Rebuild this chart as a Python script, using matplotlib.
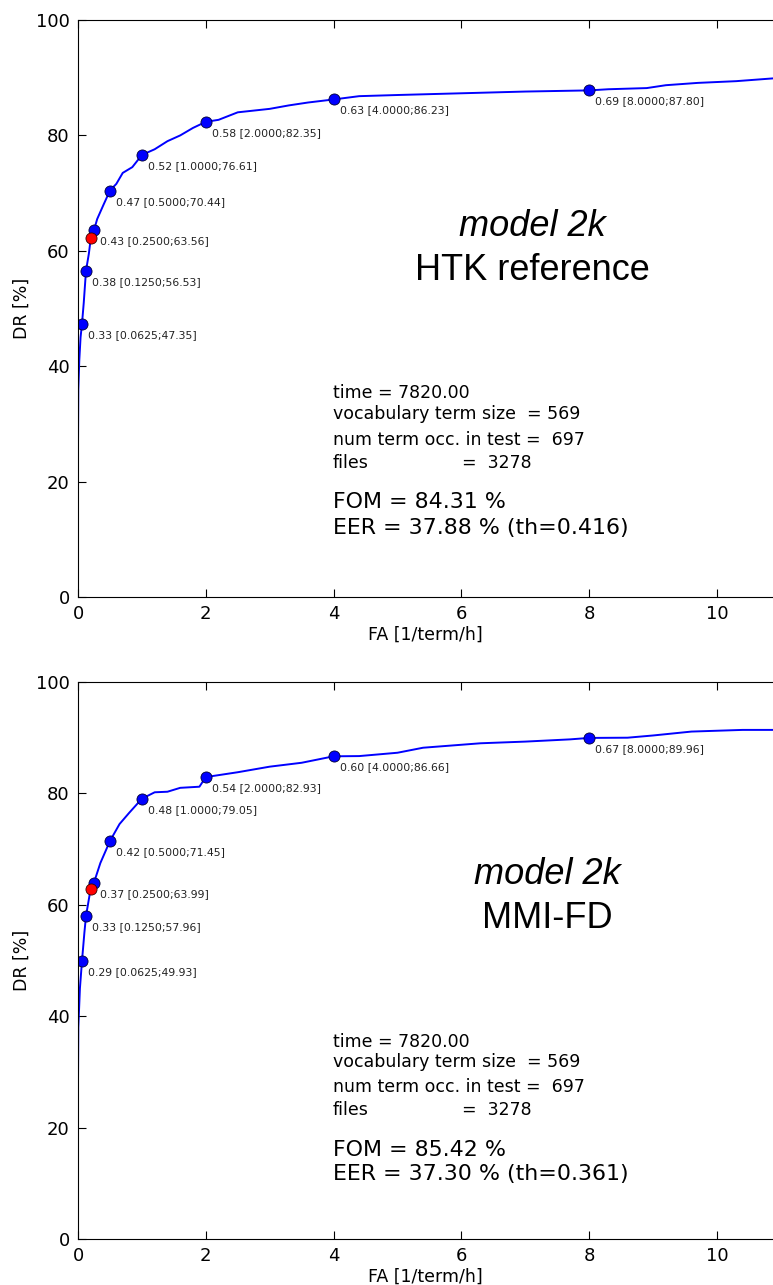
import numpy as np
import matplotlib
matplotlib.use("Agg")
import matplotlib.pyplot as plt

# ---- data ----
# top panel: HTK reference
fa_top = [0.0, 0.005, 0.02, 0.04, 0.0625, 0.09, 0.125, 0.17, 0.2, 0.25, 0.3, 0.4,
          0.5, 0.6, 0.7, 0.85, 1.0, 1.2, 1.4, 1.6, 1.8, 2.0, 2.2, 2.5, 3.0, 3.3,
          3.6, 4.0, 4.4, 5.0, 6.0, 7.0, 8.0, 8.3, 8.9, 9.2, 9.7, 10.3, 10.9]
dr_top = [26.0, 36.0, 41.0, 45.0, 47.35, 51.0, 56.53, 59.5, 62.2, 63.56, 65.5, 68.0,
          70.44, 71.6, 73.5, 74.5, 76.61, 77.6, 79.0, 80.0, 81.3, 82.35, 82.7, 84.0, 84.6, 85.2,
          85.7, 86.23, 86.8, 87.0, 87.3, 87.6, 87.80, 88.0, 88.2, 88.7, 89.1, 89.4, 89.9]
pts_fa_top = [0.0625, 0.125, 0.25, 0.5, 1.0, 2.0, 4.0, 8.0]
pts_dr_top = [47.35, 56.53, 63.56, 70.44, 76.61, 82.35, 86.23, 87.80]
pts_th_top = [0.33, 0.38, 0.43, 0.47, 0.52, 0.58, 0.63, 0.69]
eer_top = (0.20, 62.2)

# bottom panel: MMI-FD
fa_bot = [0.0, 0.005, 0.03, 0.0625, 0.1, 0.125, 0.17, 0.2, 0.25, 0.35, 0.5, 0.65,
          0.8, 1.0, 1.2, 1.4, 1.6, 1.9, 2.0, 2.5, 3.0, 3.5, 4.0, 4.4, 5.0, 5.4,
          6.3, 7.0, 7.7, 8.0, 8.6, 9.0, 9.6, 10.4, 10.9]
dr_bot = [28.0, 38.0, 45.0, 49.93, 55.0, 57.96, 61.0, 63.0, 63.99, 67.5, 71.45, 74.5,
          76.5, 79.05, 80.2, 80.3, 81.0, 81.2, 82.93, 83.8, 84.8, 85.5, 86.66, 86.7, 87.3, 88.2,
          89.0, 89.3, 89.7, 89.96, 90.0, 90.4, 91.1, 91.4, 91.4]
pts_fa_bot = [0.0625, 0.125, 0.25, 0.5, 1.0, 2.0, 4.0, 8.0]
pts_dr_bot = [49.93, 57.96, 63.99, 71.45, 79.05, 82.93, 86.66, 89.96]
pts_th_bot = [0.29, 0.33, 0.37, 0.42, 0.48, 0.54, 0.60, 0.67]
eer_bot = (0.20, 62.8)

info_lines = ["time = 7820.00", "vocabulary term size  = 569",
              "num term occ. in test =  697", "files"]
files_val = "=  3278"
fom = ["84.31", "85.42"]
eer = ["37.88", "37.30"]
th = ["0.416", "0.361"]
titles = ["HTK reference", "MMI-FD"]

W, H = 773, 1285
fig = plt.figure(figsize=(W / 100, H / 100), dpi=100)


def fx(px):
    return px / W


def fy(py):
    return 1 - py / H


panels = [
    dict(fa=fa_top, dr=dr_top, pfa=pts_fa_top, pdr=pts_dr_top, pth=pts_th_top, eer=eer_top,
         top=20, bottom=597, title_cx=532, title_y=(226, 270),
         info_y=[393, 414, 440, 463], score_y=[502, 528]),
    dict(fa=fa_bot, dr=dr_bot, pfa=pts_fa_bot, pdr=pts_dr_bot, pth=pts_th_bot, eer=eer_bot,
         top=682, bottom=1239, title_cx=547, title_y=(875, 918),
         info_y=[1042, 1062, 1087, 1110], score_y=[1150, 1174]),
]

for k, p in enumerate(panels):
    left = 78
    ax = fig.add_axes([fx(left), fy(p["bottom"]), 1 - fx(left),
                       (p["bottom"] - p["top"]) / H])
    ax.plot(p["fa"], p["dr"], color="#0000ff", lw=1.4)
    ax.plot(p["pfa"], p["pdr"], "o", color="#0000ff", ms=8, mec="#000033", mew=0.6)
    ax.plot([p["eer"][0]], [p["eer"][1]], "o", color="#ff0000", ms=8, mec="#330000", mew=0.6)
    for x, y, t in zip(p["pfa"], p["pdr"], p["pth"]):
        ax.annotate("%.2f [%.4f;%.2f]" % (t, x, y), (x, y), xytext=(4.5, -8),
                    textcoords="offset points", fontsize=7.8, va="center", color="#222222")
    ax.set_xlim(0, (W - left) / 63.9)
    ax.set_ylim(0, 100)
    ax.set_xticks([0, 2, 4, 6, 8, 10])
    ax.set_yticks([0, 20, 40, 60, 80, 100])
    ax.tick_params(direction="in", labelsize=13, length=6, top=True, right=False, pad=6)
    ax.spines["right"].set_visible(False)
    ax.set_xlabel("FA [1/term/h]", fontsize=12.5, labelpad=2)
    ax.set_ylabel("DR [%]", fontsize=12.5, labelpad=4)

    fig.text(fx(p["title_cx"]), fy(p["title_y"][0]), "model 2k", style="italic",
             family="Liberation Sans", fontsize=26, ha="center", va="center")
    fig.text(fx(p["title_cx"]), fy(p["title_y"][1]), titles[k],
             family="Liberation Sans", fontsize=26, ha="center", va="center")
    for line, y in zip(info_lines, p["info_y"]):
        fig.text(fx(333), fy(y), line, fontsize=12.5, va="center")
    fig.text(fx(462), fy(p["info_y"][3]), files_val, fontsize=12.5, va="center")
    fig.text(fx(333), fy(p["score_y"][0]), "FOM = %s %%" % fom[k], fontsize=15.9, va="center")
    fig.text(fx(333), fy(p["score_y"][1]), "EER = %s %% (th=%s)" % (eer[k], th[k]),
             fontsize=15.9, va="center")

fig.savefig("out.png", dpi=100)
